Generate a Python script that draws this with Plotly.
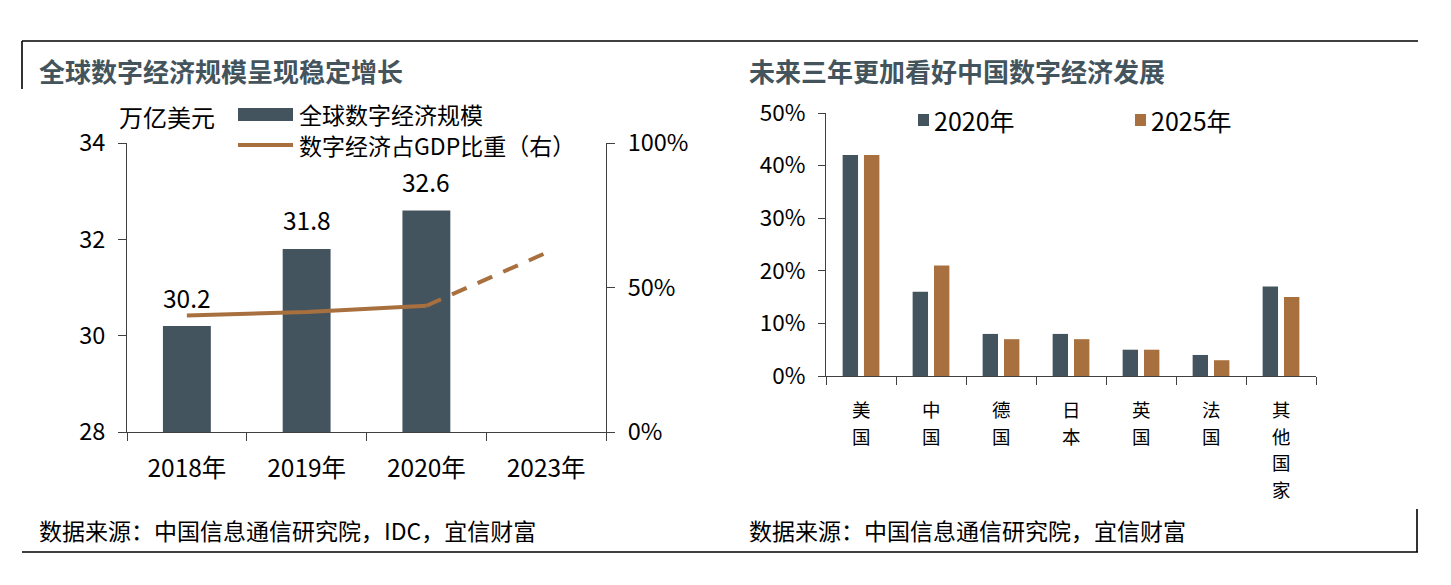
import plotly.graph_objects as go

# ---------------- data ----------------
years = ["2018年", "2019年", "2020年", "2023年"]
scale_vals = [30.2, 31.8, 32.6]            # 万亿美元
share_vals = [0.403, 0.415, 0.437, 0.62]    # 数字经济占GDP比重
left_yticks = [28, 30, 32, 34]
right_yticks = [0, 0.5, 1.0]

countries = ["美国", "中国", "德国", "日本", "英国", "法国", "其他国家"]
v2020 = [0.42, 0.16, 0.08, 0.08, 0.05, 0.04, 0.17]
v2025 = [0.42, 0.21, 0.07, 0.07, 0.05, 0.03, 0.15]

title_left = "全球数字经济规模呈现稳定增长"
title_right = "未来三年更加看好中国数字经济发展"
source_left = "数据来源：中国信息通信研究院，IDC，宜信财富"
source_right = "数据来源：中国信息通信研究院，宜信财富"

# ---------------- style ----------------
W, H = 1451, 585
FONT = "Noto Sans CJK SC"
DARK = "#44545f"
BROWN = "#a8703f"
AXIS = "#404040"
TITLE_C = "#44545c"


def px(x):
    return x / W


def py(y):
    return 1 - y / H


fig = go.Figure()

# left chart bars
fig.add_trace(go.Bar(
    x=years[:len(scale_vals)], y=scale_vals, xaxis="x", yaxis="y",
    marker=dict(color=DARK, line=dict(width=0)), width=0.4,
    name="全球数字经济规模", showlegend=False,
))
# share line (solid actual, dashed forecast)
fig.add_trace(go.Scatter(
    x=years[:3], y=share_vals[:3], xaxis="x", yaxis="y2", mode="lines",
    line=dict(color=BROWN, width=4), showlegend=False,
    name="数字经济占GDP比重（右）",
))
fig.add_trace(go.Scatter(
    x=years[2:], y=share_vals[2:], xaxis="x", yaxis="y2", mode="lines",
    line=dict(color=BROWN, width=4, dash="16px,12px"), showlegend=False,
))

# right chart bars
n = len(countries)
fig.add_trace(go.Bar(
    x=countries, y=v2020, xaxis="x2", yaxis="y3", name="2020年",
    marker=dict(color=DARK, line=dict(width=0)),
    width=[0.22] * n, offset=[-0.2625] * n, showlegend=False,
))
fig.add_trace(go.Bar(
    x=countries, y=v2025, xaxis="x2", yaxis="y3", name="2025年",
    marker=dict(color=BROWN, line=dict(width=0)),
    width=[0.22] * n, offset=[0.0425] * n, showlegend=False,
))

ltick = dict(family=FONT, size=23.5, color="#000")
rtick = dict(family=FONT, size=22.5, color="#000")

fig.update_layout(
    width=W, height=H, margin=dict(l=0, r=0, t=0, b=0, autoexpand=False),
    paper_bgcolor="white", plot_bgcolor="white",
    barmode="overlay", font=dict(family=FONT, color="#000"),
    xaxis=dict(
        domain=[px(127), px(606)], anchor="y", type="category", automargin=False,
        categoryorder="array", categoryarray=years, range=[-0.5, 3.5],
        tickson="boundaries", ticks="outside", ticklen=8, tickcolor=AXIS,
        showline=True, linecolor=AXIS, linewidth=1, showgrid=False,
        tickfont=dict(family=FONT, size=24.5, color="#000"), ticklabelstandoff=15,
    ),
    yaxis=dict(
        domain=[py(432), py(143)], anchor="x", range=[28, 34], automargin=False,
        tickvals=left_yticks, ticks="outside", ticklen=8, tickcolor=AXIS,
        showline=True, linecolor=AXIS, linewidth=1, showgrid=False,
        zeroline=False, tickfont=ltick, ticklabelstandoff=8,
    ),
    yaxis2=dict(
        overlaying="y", side="right", anchor="x", range=[0, 1], automargin=False,
        tickvals=right_yticks, tickformat=".0%", ticks="outside", ticklen=8,
        tickcolor=AXIS, showline=True, linecolor=AXIS, linewidth=1,
        showgrid=False, zeroline=False, tickfont=ltick, ticklabelstandoff=8,
    ),
    xaxis2=dict(
        domain=[px(826), px(1316)], anchor="y3", type="category", automargin=False,
        categoryorder="array", categoryarray=countries, range=[-0.5, n - 0.5],
        tickson="boundaries", ticks="outside", ticklen=8, tickcolor=AXIS,
        showline=True, linecolor=AXIS, linewidth=1, showgrid=False,
        showticklabels=False,
    ),
    yaxis3=dict(
        domain=[py(376), py(113)], anchor="x2", range=[0, 0.5], dtick=0.1,
        automargin=False,
        tickformat=".0%", ticks="outside", ticklen=7, tickcolor=AXIS,
        showline=True, linecolor=AXIS, linewidth=1, showgrid=False,
        zeroline=False, tickfont=rtick, ticklabelstandoff=8,
    ),
)

ann = []
# bar value labels
for yr, v in zip(years, scale_vals):
    ann.append(dict(x=yr, y=v, xref="x", yref="y", text=f"{v:.1f}",
                    showarrow=False, yshift=29,
                    font=dict(family=FONT, size=24.5, color="#000")))

# vertical (stacked) category labels for the right chart
for c in countries:
    for i, ch in enumerate(c):
        ann.append(dict(x=c, y=py(409 + 26.5 * i), xref="x2", yref="paper", text=ch,
                        showarrow=False, xanchor="center", yanchor="middle",
                        font=dict(family=FONT, size=18.5, color="#000")))


def text(x, y, s, size, anchor="left", color="#000"):
    ann.append(dict(x=px(x), y=py(y), xref="paper", yref="paper", text=s,
                    showarrow=False, xanchor=anchor, yanchor="middle",
                    font=dict(family=FONT, size=size, color=color)))


# titles
text(37, 70, f"<b>{title_left}</b>", 26, color=TITLE_C)
text(747, 70, f"<b>{title_right}</b>", 26, color=TITLE_C)
# sources
text(37, 530, source_left, 23)
text(747, 530, source_right, 23)
# unit label
text(167, 117, "万亿美元", 24, anchor="center")
# legend texts (left)
text(297, 114, "全球数字经济规模", 23)
text(297, 145, "数字经济占GDP比重（右）", 23)
# legend texts (right)
text(932, 120, "2020年", 25)
text(1149, 120, "2025年", 25)

shapes = []
# frame lines
frame = dict(color="#000", width=1.6)
shapes.append(dict(type="line", xref="paper", yref="paper", x0=px(22), x1=px(1418), y0=py(41), y1=py(41), line=frame))
shapes.append(dict(type="line", xref="paper", yref="paper", x0=px(22), x1=px(22), y0=py(41), y1=py(89), line=frame))
shapes.append(dict(type="line", xref="paper", yref="paper", x0=px(22), x1=px(1418), y0=py(552), y1=py(552), line=frame))
shapes.append(dict(type="line", xref="paper", yref="paper", x0=px(1417), x1=px(1417), y0=py(509), y1=py(552), line=frame))
# legend swatches
shapes.append(dict(type="rect", xref="paper", yref="paper", x0=px(238), x1=px(293), y0=py(121), y1=py(108),
                   fillcolor=DARK, line=dict(width=0)))
shapes.append(dict(type="line", xref="paper", yref="paper", x0=px(238), x1=px(293), y0=py(145), y1=py(145),
                   line=dict(color=BROWN, width=4)))
shapes.append(dict(type="rect", xref="paper", yref="paper", x0=px(918), x1=px(929), y0=py(126), y1=py(114),
                   fillcolor=DARK, line=dict(width=0)))
shapes.append(dict(type="rect", xref="paper", yref="paper", x0=px(1135), x1=px(1146), y0=py(126), y1=py(114),
                   fillcolor=BROWN, line=dict(width=0)))

fig.update_layout(annotations=ann, shapes=shapes)

fig.write_html("out.html", config={"displayModeBar": False},
               post_script="document.body.style.margin='0px';")
